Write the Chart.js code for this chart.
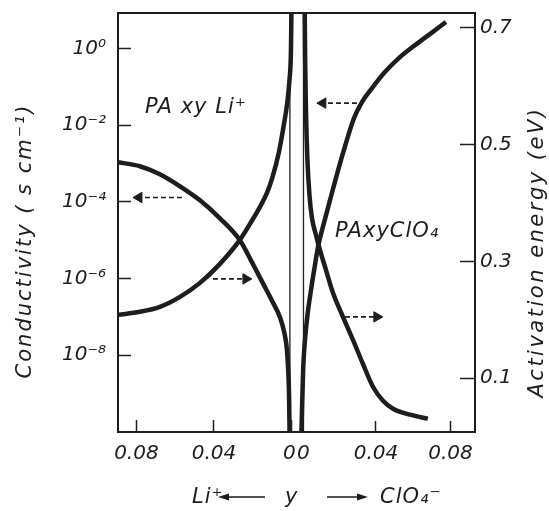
<!DOCTYPE html>
<html>
<head>
<meta charset="utf-8">
<title>PAxy conductivity and activation energy</title>
<script src="https://cdn.jsdelivr.net/npm/chart.js@4.4.1/dist/chart.umd.min.js"></script>
<style>
  html, body { margin: 0; padding: 0; background: #fff; }
  canvas { display: block; }
</style>
</head>
<body>
<canvas id="chart" width="549" height="511"></canvas>
<script>
// Li+ doped side: composition y grows to the left
const liY = [0.0895, 0.0782, 0.0679, 0.0575, 0.0472, 0.0369, 0.0266, 0.0209, 0.0147, 0.0101, 0.0059, 0.0036, 0.0023, 0.00155, 0.00119, 0.00098];
const liSigma = [1.08e-3, 8.5e-4, 5.26e-4, 2.55e-4, 1.1e-4, 3.73e-5, 9.93e-6, 2.99e-6, 7.5e-7, 2.7e-7, 9.7e-8, 3.7e-8, 1.33e-8, 2.97e-9, 6.6e-10, 9.6e-11];
const liEaY = [0.0895, 0.0782, 0.0679, 0.0575, 0.0472, 0.0369, 0.0266, 0.0214, 0.01625, 0.01264, 0.01006, 0.00645, 0.00387, 0.00232, 0.00103, 0.00026, 0];
const liEa = [0.2085, 0.2137, 0.2222, 0.2393, 0.2632, 0.2957, 0.3368, 0.3641, 0.3932, 0.4171, 0.441, 0.4872, 0.535, 0.5675, 0.6103, 0.6615, 0.73];

// ClO4- doped side: composition y grows to the right
const clY = [0, 0.00043, 0.00097, 0.00188, 0.00322, 0.0051, 0.00698, 0.00886, 0.0126, 0.0169, 0.0223, 0.0282, 0.0325, 0.0379, 0.0448, 0.0529, 0.061, 0.069, 0.0776];
const clSigma = [9.6e-11, 6.6e-10, 4.8e-9, 2.44e-8, 1.09e-7, 4.9e-7, 1.85e-6, 6.5e-6, 3.5e-5, 2.13e-4, 1.86e-3, 1.52e-2, 4.0e-2, 9.2e-2, 0.242, 0.596, 1.22, 2.37, 4.89];
const clEaY = [0.00177, 0.00199, 0.00242, 0.00322, 0.0043, 0.00564, 0.00779, 0.00993, 0.01316, 0.01692, 0.0223, 0.02766, 0.033, 0.0384, 0.0438, 0.0492, 0.0583, 0.0679];
const clEa = [0.73, 0.6444, 0.559, 0.4735, 0.4137, 0.3744, 0.3453, 0.3197, 0.2855, 0.2462, 0.2051, 0.1658, 0.1248, 0.0855, 0.0615, 0.0479, 0.0376, 0.0308];

// thin guide lines next to y = 0 on each side
const liGuideY = 0.0008;
const clGuideY = 0.0011;

// arrows telling which axis each curve belongs to: [tail, head] in y, plus level
const liSigmaArrow = [0.0565, 0.0787], liSigmaArrowAt = 1.3e-4;
const liEaArrow = [0.0405, 0.0235], liEaArrowAt = 0.27;
const clSigmaArrow = [0.0298, 0.0115], clSigmaArrowAt = 0.0375;
const clEaArrow = [0.0234, 0.0405], clEaArrowAt = 0.205;

// tick labels
const compTicks = [0, 0.04, 0.08];
const sigmaTicks = [1e-8, 1e-6, 1e-4, 1e-2, 1];
const eaTicks = [0.1, 0.3, 0.5, 0.7];

const ink = '#1d1d1d';
const fontFamily = '"DejaVu Sans", "Liberation Sans", sans-serif';
const tickFont = { family: fontFamily, style: 'italic', size: 20 };

const pts = (xs, ys) => xs.map((x, i) => ({ x: x, y: ys[i] }));
const flat = (xs, y) => xs.map(x => ({ x: x, y: y }));

const SUP = { '-': '\u207B', '0': '\u2070', '1': '\u00B9', '2': '\u00B2', '3': '\u00B3', '4': '\u2074',
              '5': '\u2075', '6': '\u2076', '7': '\u2077', '8': '\u2078', '9': '\u2079' };
const sup = s => String(s).split('').map(c => SUP[c] || c).join('');

function curve(xs, ys, xAxisID, yAxisID) {
  return {
    data: pts(xs, ys), xAxisID, yAxisID,
    borderColor: ink, borderWidth: 4.5, pointRadius: 0,
    cubicInterpolationMode: 'monotone', fill: false
  };
}

// vertical guide spanning the whole conductivity range
function guide(y, xAxisID) {
  return {
    data: [{ x: y, y: 1e-10 }, { x: y, y: 10 }], xAxisID, yAxisID: 'ySigma',
    borderColor: ink, borderWidth: 1.3, pointRadius: 0, fill: false
  };
}

function arrow(xs, y, xAxisID, yAxisID, dir) {
  return {
    data: flat(xs, y), xAxisID, yAxisID,
    borderColor: ink, borderWidth: 1.6, borderDash: [5, 3],
    pointRadius: [0, 6], pointStyle: 'triangle', rotation: dir,
    pointBackgroundColor: ink, pointBorderColor: ink, pointBorderWidth: 1, fill: false
  };
}

function drawArrow(ctx, x1, x2, y) {
  const dir = Math.sign(x2 - x1);
  ctx.beginPath();
  ctx.moveTo(x1, y);
  ctx.lineTo(x2 - dir * 6, y);
  ctx.stroke();
  ctx.beginPath();
  ctx.moveTo(x2, y);
  ctx.lineTo(x2 - dir * 11, y - 3.5);
  ctx.lineTo(x2 - dir * 11, y + 3.5);
  ctx.closePath();
  ctx.fill();
}

function vtext(ctx, text, x, y, spacing) {
  ctx.save();
  ctx.translate(x, y);
  ctx.rotate(-Math.PI / 2);
  ctx.letterSpacing = spacing;
  ctx.textAlign = 'center';
  ctx.textBaseline = 'middle';
  ctx.fillText(text, 0, 0);
  ctx.restore();
}

// frame top line and the free text
const decorations = {
  id: 'decorations',
  afterDraw(chart) {
    const { ctx, chartArea: a } = chart;
    ctx.save();
    ctx.strokeStyle = ink;
    ctx.fillStyle = ink;
    ctx.lineWidth = 2;
    ctx.beginPath();
    ctx.moveTo(a.left - 1, a.top);
    ctx.lineTo(a.right + 1, a.top);
    ctx.stroke();

    ctx.font = 'italic 21px ' + fontFamily;
    ctx.textBaseline = 'alphabetic';
    ctx.textAlign = 'left';
    ctx.letterSpacing = '1px';
    ctx.fillText('PA xy Li\u207A', 145, 113);
    ctx.fillText('PAxyClO\u2084', 335, 237);

    // composition label under the axis
    ctx.fillText('Li\u207A', 192, 503);
    ctx.fillText('y', 285, 503);
    ctx.fillText('ClO\u2084\u207B', 380, 503);
    ctx.lineWidth = 1.6;
    drawArrow(ctx, 265, 218, 497);
    drawArrow(ctx, 327, 368, 497);

    vtext(ctx, 'Conductivity ( s cm\u207B\u00B9)', 26, 241, '2px');
    vtext(ctx, 'Activation energy (eV)', 538, 252, '2.5px');
    ctx.restore();
  }
};

const axisGrid = len => ({ drawOnChartArea: false, drawTicks: true, tickLength: len, tickWidth: 1.5, tickColor: ink });
const axisBorder = { display: true, color: ink, width: 2 };
const noPad = s => { s.paddingTop = 0; s.paddingBottom = 0; s.paddingLeft = 0; s.paddingRight = 0; };

new Chart(document.getElementById('chart'), {
  type: 'line',
  data: {
    datasets: [
      curve(liY, liSigma, 'xLi', 'ySigma'),
      curve(liEaY, liEa, 'xLi', 'yEa'),
      curve(clY, clSigma, 'xCl', 'ySigma'),
      curve(clEaY, clEa, 'xCl', 'yEa'),
      guide(liGuideY, 'xLi'),
      guide(clGuideY, 'xCl'),
      arrow(liSigmaArrow, liSigmaArrowAt, 'xLi', 'ySigma', -90),
      arrow(liEaArrow, liEaArrowAt, 'xLi', 'yEa', 90),
      arrow(clSigmaArrow, clSigmaArrowAt, 'xCl', 'ySigma', -90),
      arrow(clEaArrow, clEaArrowAt, 'xCl', 'yEa', 90)
    ]
  },
  options: {
    responsive: false,
    animation: false,
    layout: { padding: { top: 13, left: 0, right: 0, bottom: 0 } },
    plugins: { legend: { display: false }, tooltip: { enabled: false } },
    scales: {
      xLi: {
        type: 'linear', position: 'bottom', reverse: true,
        min: -0.0947, max: 0.0895,
        afterBuildTicks: s => { s.ticks = compTicks.map(v => ({ value: v })); },
        afterFit: s => { s.height = 79; noPad(s); },
        ticks: { font: tickFont, color: ink, padding: 22, maxRotation: 0, autoSkip: false,
                 callback: v => v === 0 ? '0\u2009' : v.toFixed(2) },
        grid: axisGrid(-12), border: axisBorder
      },
      xCl: {
        type: 'linear', position: { ySigma: 1e-10 },
        min: -0.0985, max: 0.0932,
        afterBuildTicks: s => { s.ticks = compTicks.map(v => ({ value: v })); },
        afterFit: noPad,
        ticks: { font: tickFont, color: ink, padding: 22, maxRotation: 0, autoSkip: false,
                 callback: v => v === 0 ? '\u20090' : v.toFixed(2) },
        grid: axisGrid(-12), border: axisBorder
      },
      ySigma: {
        type: 'logarithmic', position: 'left',
        min: 1e-10, max: 8.4,
        afterBuildTicks: s => { s.ticks = sigmaTicks.map(v => ({ value: v })); },
        afterFit: s => { s.width = 118; noPad(s); },
        ticks: { font: tickFont, color: ink, padding: 25, autoSkip: false,
                 callback: v => '10' + sup(Math.round(Math.log10(v))) },
        grid: axisGrid(-13), border: axisBorder
      },
      yEa: {
        type: 'linear', position: 'right',
        min: 0.008, max: 0.725,
        afterBuildTicks: s => { s.ticks = eaTicks.map(v => ({ value: v })); },
        afterFit: s => { s.width = 74; noPad(s); },
        ticks: { font: tickFont, color: ink, padding: 20, autoSkip: false,
                 callback: v => v.toFixed(1) },
        grid: axisGrid(-15), border: axisBorder
      }
    }
  },
  plugins: [decorations]
});
</script>
</body>
</html>
